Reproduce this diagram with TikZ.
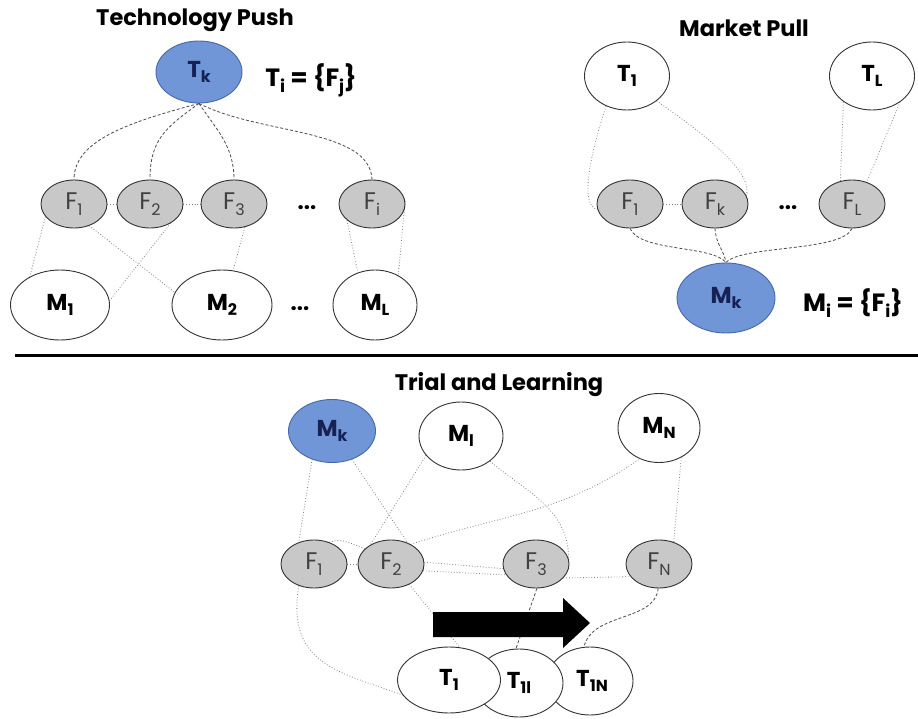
\documentclass[tikz,border=0pt]{standalone}
\usepackage{fontspec}
\setmainfont{Poppins}
\usepackage{graphicx}
\usetikzlibrary{shapes.geometric}
\pgfdeclarelayer{background}
\pgfdeclarelayer{canvas}
\pgfsetlayers{canvas,background,main}
\definecolor{nodeblue}{RGB}{112,150,216}
\definecolor{blueline}{RGB}{70,104,170}
\definecolor{bluetext}{RGB}{22,34,84}
\definecolor{fgrey}{RGB}{200,200,200}
\definecolor{edgegrey}{RGB}{130,130,130}
\newcommand\sbs[1]{\raisebox{-0.45ex}{\fontsize{16}{16}\selectfont #1}}
\newcommand\bigsbs[1]{\raisebox{-0.45ex}{\fontsize{17}{17}\selectfont #1}}
\begin{document}
\begin{tikzpicture}[x=1pt,y=-1pt,
  base/.style={ellipse, inner sep=0pt, draw=black!80, line width=0.9pt},
  fnode/.style={base, fill=fgrey, minimum width=66pt, minimum height=48pt, font=\fontsize{24}{24}\selectfont, text=black!75},
  wnode/.style={base, fill=white, font=\fontsize{23}{23}\selectfont\bfseries},
  bnode/.style={base, fill=nodeblue, draw=blueline, text=bluetext, font=\fontsize{23}{23}\selectfont\bfseries},
  dotl/.style={draw=edgegrey, dotted, line width=0.8pt},
  dashl/.style={draw=black!70, dash pattern=on 3pt off 2pt, line width=0.8pt},
  titletext/.style={font=\fontsize{22.5}{22.5}\selectfont\bfseries},
  formula/.style={font=\fontsize{25}{25}\selectfont\bfseries},
  dots/.style={font=\fontsize{22}{22}\selectfont\bfseries},
  ]
\useasboundingbox (0,0) rectangle (918,719);
\begin{pgfonlayer}{canvas}
\fill[white] (0,0) rectangle (918,719);
\end{pgfonlayer}

% ---------------- Technology Push ----------------
\node[titletext] (tpTitle) at (195,20) {Technology Push};
\node[bnode, minimum width=86pt, minimum height=62pt] (tk) at (199,72) {T\sbs{k}};
\node[formula] (tpForm) at (311,80) {T\bigsbs{i} = \{F\bigsbs{j}\}};
\node[fnode] (f1) at (74,204) {F\sbs{1}};
\node[fnode] (f2) at (150,204) {F\sbs{2}};
\node[fnode] (f3) at (234,204) {F\sbs{3}};
\node[fnode] (fi) at (372,204) {F\sbs{i}};
\node[dots] (tpdots1) at (307,208) {...};
\node[wnode, minimum width=99pt, minimum height=70pt] (m1) at (60,305) {M\sbs{1}};
\node[wnode, minimum width=100pt, minimum height=70pt] (m2) at (222,305) {M\sbs{2}};
\node[wnode, minimum width=84pt, minimum height=70pt] (ml) at (375,305) {M\sbs{L}};
\node[dots] (tpdots2) at (300,309) {...};

% ---------------- Market Pull ----------------
\node[titletext] (mpTitle) at (744,28) {Market Pull};
\node[wnode, minimum width=85pt, minimum height=68pt] (t1) at (627,76) {T\sbs{1}};
\node[wnode, minimum width=85pt, minimum height=68pt] (tl) at (872,76) {T\sbs{L}};
\node[fnode] (mf1) at (630,204) {F\sbs{1}};
\node[fnode] (fk) at (715,204) {F\sbs{k}};
\node[fnode] (fl) at (852,204) {F\sbs{L}};
\node[dots] (mpdots) at (788,208) {...};
\node[bnode, minimum width=98pt, minimum height=70pt] (mk) at (726,298) {M\sbs{k}};
\node[formula] (mpForm) at (853,303) {M\bigsbs{i} = \{F\bigsbs{i}\}};

% separator
\coordinate (sepL) at (15,355);
\coordinate (sepR) at (918,355);
\draw[line width=3pt] (sepL) -- (sepR);

% ---------------- Trial and Learning ----------------
\node[titletext] (tlTitle) at (499,385) {Trial and Learning};
\node[bnode, minimum width=87pt, minimum height=63pt] (mk3) at (332,431) {M\sbs{k}};
\node[wnode, minimum width=84pt, minimum height=68pt] (ml3) at (461,436) {M\sbs{l}};
\node[wnode, minimum width=82pt, minimum height=69pt] (mn3) at (659,428) {M\sbs{N}};
\node[fnode] (g1) at (314,564) {F\sbs{1}};
\node[fnode] (g2) at (391,564) {F\sbs{2}};
\node[fnode] (g3) at (536,564) {F\sbs{3}};
\node[fnode] (gn) at (659,564) {F\sbs{N}};
\node[wnode, minimum width=86pt, minimum height=68pt] (t1n) at (590,681) {\hspace*{4pt}T\sbs{1N}};
\node[wnode, minimum width=88pt, minimum height=68pt] (t1l) at (519,683) {T\sbs{1l}};
\node[wnode, minimum width=103pt, minimum height=66pt] (t13) at (449,680) {T\sbs{1}};
\fill (433,612) -- (563,612) -- (563,598) -- (590,623) -- (563,648) -- (563,637) -- (433,637) -- cycle;

\begin{pgfonlayer}{background}
% Technology push edges
\draw[dashl] (tk.south) .. controls (130,122) and (74,140) .. (f1.north);
\draw[dashl] (tk.south) .. controls (165,128) and (150,140) .. (f2.north);
\draw[dashl] (tk.south) .. controls (215,128) and (234,145) .. (f3.north);
\draw[dashl] (tk.south) .. controls (260,135) and (370,128) .. (fi.north);
\draw[dotl] (f1.east) -- (f2.west);
\draw[dotl] (f2.east) -- (f3.west);
\draw[dotl] (f1.204) -- (m1.137);
\draw[dotl] (f1.305) -- (m2.165);
\draw[dotl] (f2.317) -- (m1.5);
\draw[dotl] (f3.295) -- (m2.72);
\draw[dotl] (fi.213) -- (ml.118);
\draw[dotl] (fi.5) -- (ml.52);
% Market pull edges
\draw[dotl] (t1.235) .. controls (592,150) and (578,205) .. (mf1.190);
\draw[dotl] (t1.320) .. controls (720,145) and (752,175) .. (fk.15);
\draw[dotl] (mf1.east) -- (fk.west);
\draw[dotl] (tl.222) -- (fl.117);
\draw[dotl] (tl.317) -- (fl.56);
\draw[dashl] (mf1.south) .. controls (640,252) and (712,245) .. (mk.north);
\draw[dashl] (fk.south) .. controls (716,245) and (724,250) .. (mk.north);
\draw[dashl] (fl.south) .. controls (842,252) and (742,245) .. (mk.north);
% Trial and learning edges
\draw[dotl] (mk3.235) -- (g1.125);
\draw[dotl] (mk3.305) -- (g2.52);
\draw[dotl] (ml3.209) -- (g2.137);
\draw[dotl] (g1.55) to[out=20,in=160] (g2.150);
\draw[dotl] (g1.east) -- (g2.west);
\draw[dotl] (g2.45) to[out=18,in=215] (mn3.238);
\draw[dotl] (ml3.319) to[out=-40,in=90] (g3.10);
\draw[dotl] (mn3.307) -- (gn.56);
\draw[dotl] (g2.3) -- (g3.188);
\draw[dotl] (g2.-12) -- (g3.200);
\draw[dotl] (g3.333) -- (gn.204);
\draw[dotl] (g1.235) .. controls (286,665) and (340,672) .. (t13.198);
\draw[dotl] (g2.312) -- (t13.72);
\draw[dashl] (g3.272) -- (t1l.95);
\draw[dashl] (gn.268) .. controls (655,622) and (592,612) .. (t1n.100);
\end{pgfonlayer}
\end{tikzpicture}
\end{document}
